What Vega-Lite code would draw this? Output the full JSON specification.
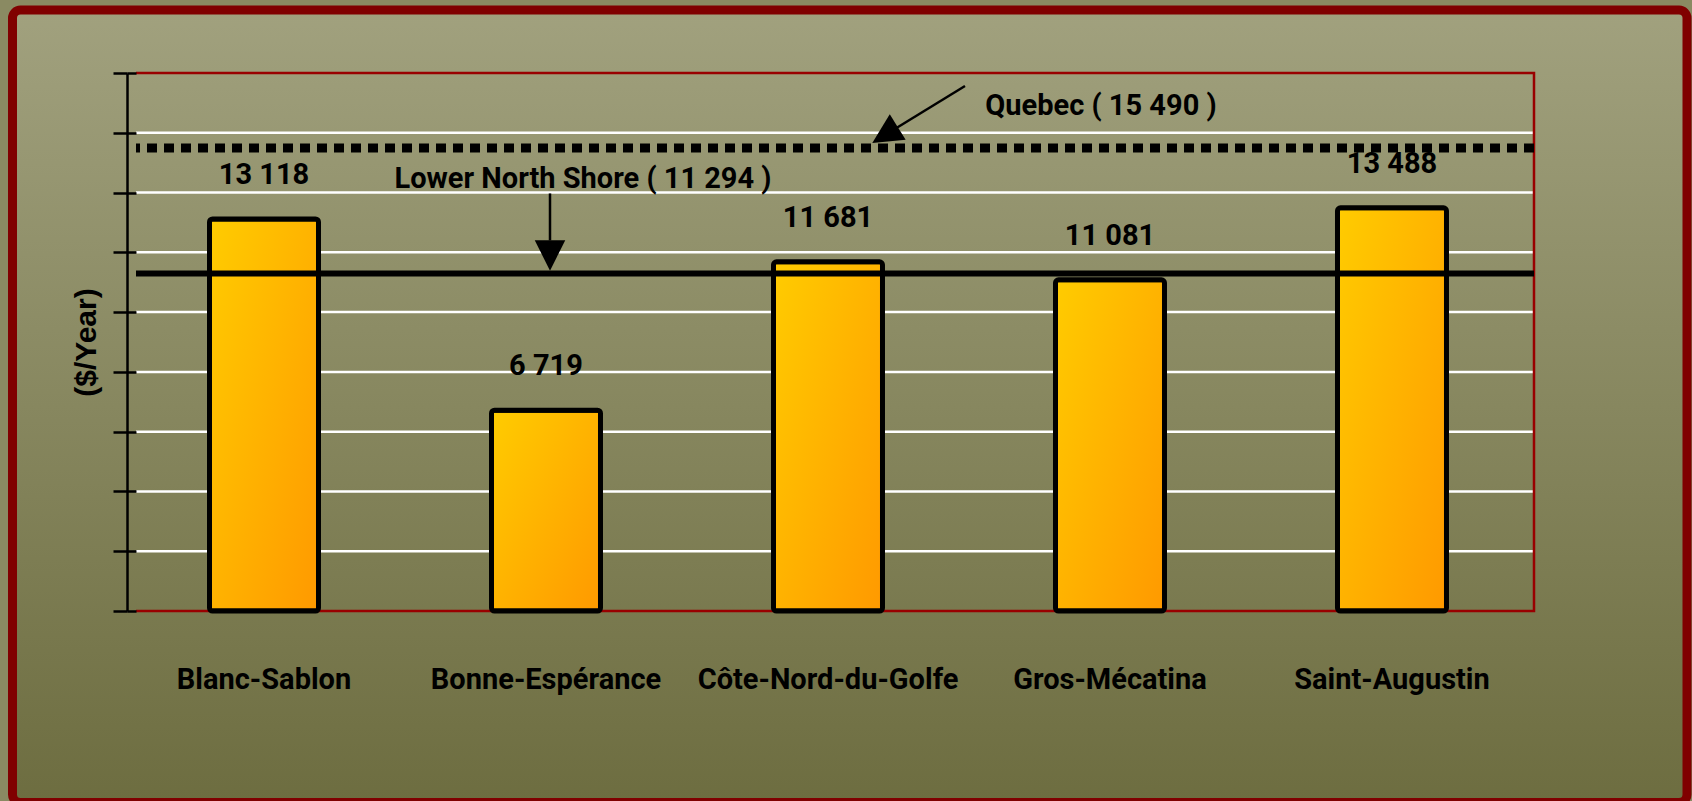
{
  "$schema": "https://vega.github.io/schema/vega-lite/v6.json",
  "width": 1398,
  "height": 538,
  "autosize": {"type": "none"},
  "padding": {"left": 136, "top": 73, "right": 158, "bottom": 190},
  "background": "#8A8A62",
  "config": {"view": {"stroke": null, "fill": null}, "font": "Roboto"},
  "datasets": {
    "municipalities": [
      {"municipality": "Blanc-Sablon", "income": 13118, "label": "13 118"},
      {"municipality": "Bonne-Espérance", "income": 6719, "label": "6 719"},
      {"municipality": "Côte-Nord-du-Golfe", "income": 11681, "label": "11 681"},
      {"municipality": "Gros-Mécatina", "income": 11081, "label": "11 081"},
      {"municipality": "Saint-Augustin", "income": 13488, "label": "13 488"}
    ],
    "benchmarks": [
      {"benchmark": "Quebec", "income": 15490, "label": "Quebec ( 15 490 )"},
      {"benchmark": "Lower North Shore", "income": 11294, "label": "Lower North Shore ( 11 294 )"}
    ],
    "gridlines": [
      {"income": 2000}, {"income": 4000}, {"income": 6000}, {"income": 8000},
      {"income": 10000}, {"income": 12000}, {"income": 14000}, {"income": 16000}
    ]
  },
  "layer": [
    {
      "data": {"values": [{"frame": "page"}]},
      "mark": {
        "type": "rect",
        "fill": {"gradient": "linear", "x1": 0, "y1": 0, "x2": 0, "y2": 1,
          "stops": [{"offset": 0, "color": "#A1A17E"}, {"offset": 1, "color": "#6D6D40"}]},
        "stroke": "#800000",
        "strokeWidth": 9,
        "cornerRadius": 8
      },
      "encoding": {
        "x": {"datum": 0, "type": "quantitative", "scale": {"domain": [0.07375, 0.90863], "nice": false, "zero": false}, "axis": null},
        "x2": {"datum": 1},
        "y": {"datum": 0, "type": "quantitative", "scale": {"domain": [0.24164, 0.9205], "nice": false, "zero": false}, "axis": null},
        "y2": {"datum": 1}
      }
    },
    {
      "resolve": {"axis": {"y": "independent"}},
      "layer": [
        {
          "data": {"name": "gridlines"},
          "mark": {"type": "rule", "color": "#FFFFFF", "strokeWidth": 2.5},
          "encoding": {
            "y": {"field": "income", "type": "quantitative", "scale": {"domain": [0, 18000], "nice": false},
              "axis": {"orient": "left", "offset": 0, "tickSize": 9, "tickWidth": 2.5, "tickColor": "#000000", "tickCount": 9,
                "domain": false, "labels": false, "grid": false, "title": null, "zindex": 1}}
          }
        },
        {
          "data": {"values": [{"panel": "plot"}]},
          "mark": {"type": "rect", "fill": "transparent", "stroke": "#990000", "strokeWidth": 2.5, "strokeDash": [3334, 600]},
          "encoding": {
            "y": {"datum": 0, "type": "quantitative", "axis": null},
            "y2": {"datum": 18000}
          }
        },
        {
          "data": {"name": "municipalities"},
          "mark": {
            "type": "bar",
            "fill": {"gradient": "linear", "x1": 0, "y1": 0, "x2": 1, "y2": 1,
              "stops": [{"offset": 0, "color": "#FFCC00"}, {"offset": 1, "color": "#FF9900"}]},
            "stroke": "#000000",
            "strokeWidth": 5,
            "cornerRadius": 3
          },
          "encoding": {
            "x": {"field": "municipality", "type": "nominal", "sort": null,
              "scale": {"paddingInner": 0.6135, "paddingOuter": 0.2855, "align": 0.4565},
              "axis": null},
            "y": {"field": "income", "type": "quantitative", "scale": {"domain": [0, 18000], "nice": false},
              "axis": {"orient": "left", "offset": 9, "tickSize": 14, "tickWidth": 2.5, "tickColor": "#000000", "tickCount": 9,
                "domain": true, "domainColor": "#000000", "domainWidth": 2.5, "labels": false, "grid": false,
                "title": "($/Year)", "titleFont": "Liberation Sans", "titleFontSize": 30, "titleFontWeight": "bold",
                "titleColor": "#000000", "titlePadding": 10, "zindex": 1}}
          }
        },
        {
          "data": {"name": "municipalities"},
          "mark": {"type": "text", "font": "Roboto", "fontSize": 29, "fontWeight": "bold", "color": "#000000",
            "baseline": "alphabetic", "dy": 78},
          "encoding": {
            "x": {"field": "municipality", "type": "nominal", "sort": null, "axis": null},
            "y": {"datum": 0, "type": "quantitative", "axis": null},
            "text": {"field": "municipality"}
          }
        },
        {
          "data": {"name": "benchmarks"},
          "transform": [{"filter": "datum.benchmark === 'Lower North Shore'"}],
          "mark": {"type": "rule", "color": "#000000", "strokeWidth": 6},
          "encoding": {"y": {"field": "income", "type": "quantitative", "axis": null}}
        },
        {
          "data": {"name": "benchmarks"},
          "transform": [{"filter": "datum.benchmark === 'Quebec'"}],
          "mark": {"type": "rule", "color": "#000000", "strokeWidth": 9, "strokeDash": [10, 7]},
          "encoding": {"y": {"field": "income", "type": "quantitative", "axis": null}}
        },
        {
          "data": {"name": "municipalities"},
          "mark": {"type": "text", "font": "Roboto", "fontSize": 29, "fontWeight": "bold", "color": "#000000",
            "baseline": "alphabetic", "dy": -35},
          "encoding": {
            "x": {"field": "municipality", "type": "nominal", "sort": null, "axis": null},
            "y": {"field": "income", "type": "quantitative", "axis": null},
            "text": {"field": "label"}
          }
        },
        {
          "data": {"name": "benchmarks"},
          "transform": [{"filter": "datum.benchmark === 'Lower North Shore'"}],
          "mark": {"type": "text", "font": "Roboto", "fontSize": 29, "fontWeight": "bold", "color": "#000000",
            "baseline": "alphabetic", "dx": 37, "dy": -85},
          "encoding": {
            "x": {"datum": "Bonne-Espérance", "type": "nominal", "axis": null},
            "y": {"field": "income", "type": "quantitative", "axis": null},
            "text": {"field": "label"}
          }
        },
        {
          "data": {"name": "benchmarks"},
          "transform": [{"filter": "datum.benchmark === 'Quebec'"}],
          "mark": {"type": "text", "font": "Roboto", "fontSize": 29, "fontWeight": "bold", "color": "#000000",
            "baseline": "alphabetic", "dx": -9, "dy": -33},
          "encoding": {
            "x": {"datum": "Gros-Mécatina", "type": "nominal", "axis": null},
            "y": {"field": "income", "type": "quantitative", "axis": null},
            "text": {"field": "label"}
          }
        },
        {
          "data": {"name": "benchmarks"},
          "transform": [{"filter": "datum.benchmark === 'Lower North Shore'"}],
          "mark": {"type": "rule", "color": "#000000", "strokeWidth": 2.5, "xOffset": 4, "yOffset": -80, "y2Offset": -33},
          "encoding": {
            "x": {"datum": "Bonne-Espérance", "type": "nominal", "axis": null},
            "y": {"field": "income", "type": "quantitative", "axis": null},
            "y2": {"field": "income"}
          }
        },
        {
          "data": {"name": "benchmarks"},
          "transform": [{"filter": "datum.benchmark === 'Lower North Shore'"}],
          "mark": {"type": "point", "shape": "M-1,-1L0,1L1,-1Z", "filled": true, "color": "#000000", "opacity": 1,
            "size": 930, "xOffset": 4, "yOffset": -18},
          "encoding": {
            "x": {"datum": "Bonne-Espérance", "type": "nominal", "axis": null},
            "y": {"field": "income", "type": "quantitative", "axis": null}
          }
        },
        {
          "data": {"name": "benchmarks"},
          "transform": [{"filter": "datum.benchmark === 'Quebec'"}],
          "mark": {"type": "rule", "color": "#000000", "strokeWidth": 2.5, "xOffset": -145, "x2Offset": -225, "yOffset": -62, "y2Offset": -13},
          "encoding": {
            "x": {"datum": "Gros-Mécatina", "type": "nominal", "axis": null},
            "x2": {"datum": "Gros-Mécatina"},
            "y": {"field": "income", "type": "quantitative", "axis": null},
            "y2": {"field": "income"}
          }
        },
        {
          "data": {"name": "benchmarks"},
          "transform": [{"filter": "datum.benchmark === 'Quebec'"}],
          "mark": {"type": "point", "shape": "M-1,-1L0,1L1,-1Z", "filled": true, "color": "#000000", "opacity": 1,
            "size": 900, "angle": 58, "xOffset": -225, "yOffset": -13},
          "encoding": {
            "x": {"datum": "Gros-Mécatina", "type": "nominal", "axis": null},
            "y": {"field": "income", "type": "quantitative", "axis": null}
          }
        }
      ]
    }
  ],
  "resolve": {"scale": {"x": "independent", "y": "independent"}, "axis": {"x": "independent", "y": "independent"}}
}
